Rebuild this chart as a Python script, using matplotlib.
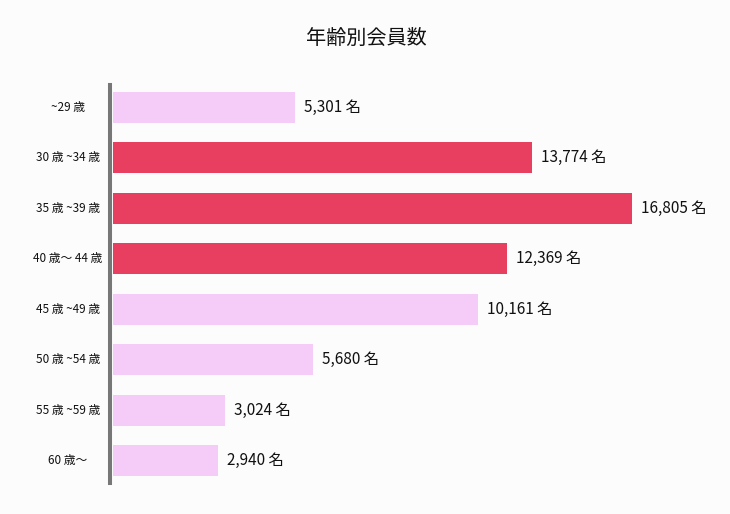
import matplotlib
matplotlib.use("Agg")
import matplotlib.pyplot as plt
from matplotlib.transforms import blended_transform_factory

plt.rcParams['font.family'] = ['Noto Sans CJK JP', 'DejaVu Sans']

title = "年齢別会員数"
categories = ["~29 歳", "30 歳 ~34 歳", "35 歳 ~39 歳", "40 歳～ 44 歳",
              "45 歳 ~49 歳", "50 歳 ~54 歳", "55 歳 ~59 歳", "60 歳～"]
# member counts as printed on the labels
counts = [5301, 13774, 16805, 12369, 10161, 5680, 3024, 2940]
bar_lengths = [5890, 13549, 16805, 12750, 11811, 6482, 3615, 3398]
highlight = [False, True, True, True, False, False, False, False]

PINK = "#f5ccf7"
RED = "#e83f61"
BG = "#fcfcfc"

W, H = 730, 514
fig = plt.figure(figsize=(W / 100, H / 100), dpi=100, facecolor=BG)
ax = fig.add_axes([113 / W, 1 - 483 / H, (700 - 113) / W, (483 - 85) / H])
ax.set_facecolor(BG)

ypos = list(range(len(categories)))
colors = [RED if h else PINK for h in highlight]
ax.barh(ypos, bar_lengths, height=0.614, color=colors, edgecolor='none')

ax.set_xlim(0, 587 * 16805 / 519.3)
ax.set_ylim(7 + 22.5 / 50.45, -22.4 / 50.45)

for s in ['top', 'right', 'bottom']:
    ax.spines[s].set_visible(False)
ax.spines['left'].set_color('#777777')
ax.spines['left'].set_linewidth(2.9)
ax.spines['left'].set_position(('outward', 2))
ax.set_xticks([])
ax.set_yticks([])

tr = blended_transform_factory(fig.transFigure, ax.transData)
for y, lab in zip(ypos, categories):
    ax.text(68 / W, y, lab, transform=tr, ha='center', va='center',
            fontsize=8.5, color='#111111')

for y, L, c in zip(ypos, bar_lengths, counts):
    ax.annotate(f"{c:,} 名", xy=(L, y), xytext=(6.5, 0), textcoords='offset points',
                ha='left', va='center', fontsize=11, color='#111111')

fig.text(366 / W, 1 - 38 / H, title, ha='center', va='center', fontsize=14.5,
         color='#111111')

fig.savefig("out.png", dpi=100, facecolor=BG)
